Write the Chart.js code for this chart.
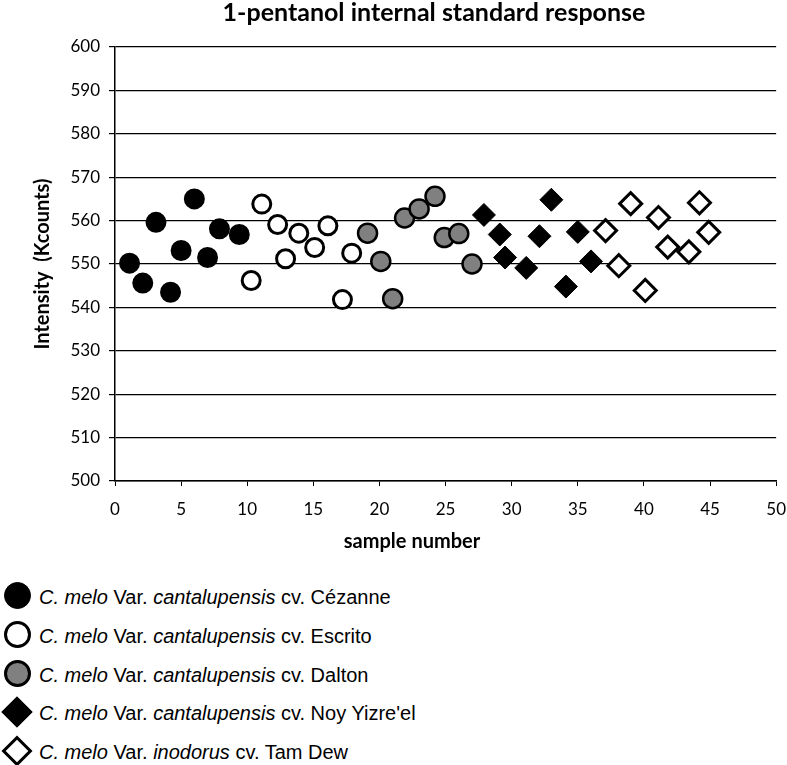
<!DOCTYPE html>
<html>
<head>
<meta charset="utf-8">
<script src="https://cdn.jsdelivr.net/npm/chart.js@4/dist/chart.umd.min.js"></script>
<style>
  html, body { margin: 0; padding: 0; background: #fff; overflow: hidden; }
  #wrap { position: relative; width: 787px; height: 765px; overflow: hidden; }
  #chart { position: absolute; left: 0; top: 0; }
  #legend { position: absolute; left: 0; top: 577px; font: 20px "Liberation Sans", Arial, sans-serif; color: #000; }
  .row { position: relative; height: 38.8px; line-height: 38.8px; white-space: nowrap; }
  .row span.txt { position: absolute; left: 39px; top: 1px; }
  .mk { position: absolute; box-sizing: border-box; border: 3px solid #000; }
  .mk.circle { width: 27px; height: 27px; border-radius: 50%; left: 4px; top: 5px; }
  .mk.diamond { width: 22px; height: 22px; left: 6px; top: 8px; transform: rotate(45deg); }
</style>
</head>
<body>
<div id="wrap">
  <canvas id="chart" width="799" height="560"></canvas>
  <div id="legend"></div>
</div>
<script>
// --- data -----------------------------------------------------------------
const cezanneX = [1.1, 2.1, 3.1, 4.2, 5.0, 6.0, 7.0, 7.9, 9.4];
const cezanneY = [550.2, 545.6, 559.6, 543.5, 553.1, 565.0, 551.5, 558.1, 556.8];
const escritoX = [10.3, 11.1, 12.3, 12.9, 13.9, 15.1, 16.1, 17.2, 17.9];
const escritoY = [546.2, 563.8, 559.1, 551.2, 557.1, 553.8, 558.8, 541.8, 552.5];
const daltonX  = [19.1, 20.1, 21.0, 21.9, 23.0, 24.2, 24.9, 26.0, 27.0];
const daltonY  = [557.1, 550.6, 542.0, 560.6, 562.7, 565.6, 556.1, 557.0, 550.0];
const noyX     = [27.9, 29.1, 29.5, 31.1, 32.1, 33.0, 34.1, 35.0, 36.0];
const noyY     = [561.3, 556.8, 551.5, 549.1, 556.4, 564.8, 544.8, 557.4, 550.6];
const tamX     = [37.1, 38.1, 39.0, 40.1, 41.1, 41.8, 43.4, 44.2, 44.9];
const tamY     = [557.7, 549.6, 563.9, 543.9, 560.7, 553.9, 552.8, 564.1, 557.3];

const seriesNames = [
  ["C. melo", "Var.", "cantalupensis", "cv. Cézanne"],
  ["C. melo", "Var.", "cantalupensis", "cv. Escrito"],
  ["C. melo", "Var.", "cantalupensis", "cv. Dalton"],
  ["C. melo", "Var.", "cantalupensis", "cv. Noy Yizre'el"],
  ["C. melo", "Var.", "inodorus", "cv. Tam Dew"],
];
const chartTitle = "1-pentanol internal standard response";
const xTitle = "sample number";
const yTitle = "Intensity  (Kcounts)";

const xMin = 0, xMax = 50, xStep = 5;
const yMin = 500, yMax = 600, yStep = 10;

// --- marker styles ---------------------------------------------------------
const STYLES = [
  { shape: "circle",  fill: "#000000", border: 2,   r: 9.5 },
  { shape: "circle",  fill: "#ffffff", border: 3,   r: 9 },
  { shape: "circle",  fill: "#808080", border: 2.5, r: 9.5 },
  { shape: "rectRot", fill: "#000000", border: 1,   r: 11.5 },
  { shape: "rectRot", fill: "#ffffff", border: 3,   r: 11 },
];

const xs = [cezanneX, escritoX, daltonX, noyX, tamX];
const ys = [cezanneY, escritoY, daltonY, noyY, tamY];

const datasets = xs.map((xv, k) => ({
  label: seriesNames[k].join(" "),
  data: xv.map((x, i) => ({ x, y: ys[k][i] })),
  pointStyle: STYLES[k].shape,
  pointRadius: STYLES[k].r,
  pointHoverRadius: STYLES[k].r,
  pointBackgroundColor: STYLES[k].fill,
  pointBorderColor: "#000",
  pointBorderWidth: STYLES[k].border,
  showLine: false,
  order: xs.length - k,
}));

const FONT = "Lato, 'Open Sans', sans-serif";

// titles drawn by hand so they sit where the reference puts them
const textPlugin = {
  id: "texts",
  afterDraw(chart) {
    const { ctx, chartArea: a } = chart;
    ctx.save();
    ctx.fillStyle = "#000";
    ctx.textAlign = "center";
    ctx.textBaseline = "alphabetic";
    ctx.font = "bold 25px " + FONT;
    ctx.fillText(chartTitle, 434, 21);
    ctx.textBaseline = "middle";
    ctx.font = "bold 20px " + FONT;
    ctx.fillText(xTitle, 412, 542);
    ctx.translate(43, (a.top + a.bottom) / 2);
    ctx.rotate(-Math.PI / 2);
    ctx.fillText(yTitle, 0, 0);
    ctx.restore();
  },
};

new Chart(document.getElementById("chart"), {
  type: "scatter",
  data: { datasets },
  options: {
    responsive: false,
    animation: false,
    layout: { autoPadding: false, padding: { left: 0, right: 0, top: 47, bottom: 39 } },
    plugins: { legend: { display: false }, tooltip: { enabled: false }, title: { display: false } },
    scales: {
      x: {
        type: "linear", min: xMin, max: xMax,
        afterFit: (s) => { s.height = 40; },
        ticks: { stepSize: xStep, color: "#000", font: { family: FONT, size: 17 }, padding: 13, maxRotation: 0 },
        grid: { drawOnChartArea: false, drawTicks: true, tickLength: 5, color: "#000", lineWidth: 1 },
        border: { color: "#000", width: 1.5 },
      },
      y: {
        type: "linear", min: yMin, max: yMax,
        afterFit: (s) => { s.width = 115; },
        ticks: { stepSize: yStep, color: "#000", font: { family: FONT, size: 17 }, padding: 9 },
        grid: { color: "#000", lineWidth: 1.2, tickLength: 6 },
        border: { color: "#000", width: 1.5 },
      },
    },
  },
  plugins: [textPlugin],
});

// --- HTML legend -----------------------------------------------------------
const legend = document.getElementById("legend");
seriesNames.forEach((parts, k) => {
  const row = document.createElement("div");
  row.className = "row";
  const mk = document.createElement("div");
  mk.className = "mk " + (STYLES[k].shape === "circle" ? "circle" : "diamond");
  mk.style.background = STYLES[k].fill;
  if (STYLES[k].fill === "#000000") mk.style.borderWidth = "1px";
  row.appendChild(mk);
  const txt = document.createElement("span");
  txt.className = "txt";
  txt.innerHTML = `<i>${parts[0]}</i> ${parts[1]} <i>${parts[2]}</i> ${parts[3]}`;
  row.appendChild(txt);
  legend.appendChild(row);
});
</script>
</body>
</html>
